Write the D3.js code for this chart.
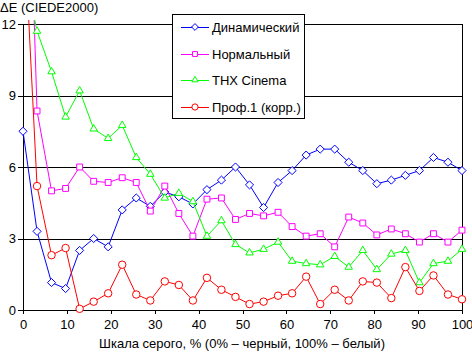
<!DOCTYPE html>
<html>
<head>
<meta charset="utf-8">
<script src="https://cdn.jsdelivr.net/npm/d3@7"></script>
<style>
  body { margin: 0; background: #fff; }
  svg { display: block; font-family: "Liberation Sans", Arial, sans-serif; }
  .crisp line, .crisp rect { shape-rendering: crispEdges; }
</style>
</head>
<body>
<div id="chart"></div>
<script>
// gray level, % (32 steps)
const grayLevels = [0, 3.2, 6.5, 9.7, 12.9, 16.1, 19.4, 22.6, 25.8, 29.0, 32.3, 35.5, 38.7, 41.9, 45.2, 48.4,
  51.6, 54.8, 58.1, 61.3, 64.5, 67.7, 71.0, 74.2, 77.4, 80.6, 83.9, 87.1, 90.3, 93.5, 96.8, 100];

const seriesNames = ["Динамический", "Нормальный", "THX Cinema", "Проф.1 (корр.)"];

const dynamicValues = [7.5, 3.3, 1.15, 0.9, 2.5, 3.0, 2.65, 4.2, 4.7, 4.35, 4.95, 4.75, 4.45, 5.05, 5.45, 6.0,
  5.25, 4.3, 5.35, 5.85, 6.5, 6.75, 6.75, 6.2, 5.85, 5.3, 5.45, 5.65, 5.85, 6.4, 6.2, 5.85];
const normalValues = [27, 8.35, 5.0, 5.1, 6.0, 5.4, 5.35, 5.55, 5.35, 4.15, 5.2, 4.05, 3.1, 4.65, 4.7, 3.8,
  4.05, 3.95, 4.1, 3.5, 3.1, 3.2, 2.65, 3.9, 3.65, 3.15, 3.4, 3.2, 2.85, 3.2, 2.85, 3.35];
const thxValues = [14.5, 11.7, 10.0, 8.1, 9.2, 7.6, 7.2, 7.75, 6.4, 5.7, 4.7, 4.9, 4.55, 3.1, 3.75, 2.75,
  2.4, 2.55, 2.85, 2.05, 1.95, 1.9, 2.25, 1.8, 2.5, 1.7, 2.35, 2.5, 1.15, 1.95, 2.05, 2.55];
const profValues = [17, 5.2, 2.3, 2.6, 0.05, 0.35, 0.7, 1.9, 0.65, 0.4, 1.2, 1.05, 0.4, 1.35, 0.85, 0.55,
  0.25, 0.35, 0.6, 0.7, 1.4, 0.25, 0.85, 0.4, 1.2, 1.15, 0.5, 1.8, 0.8, 1.45, 0.65, 0.45];

const xTicks = [0, 10, 20, 30, 40, 50, 60, 70, 80, 90, 100];
const yTicks = [0, 3, 6, 9, 12];

const colors = ["#0000ff", "#ff00ff", "#00ff00", "#ff0000"];
const symbols = [d3.symbolDiamond2, d3.symbolSquare2, d3.symbolTriangle2, d3.symbolCircle];
const symbolSizes = [42, 44, 40, 44];

const width = 472, height = 353;
const x = d3.scaleLinear().domain([0, 100]).range([23, 462]);
const y = d3.scaleLinear().domain([0, 12]).range([310, 24]);

const svg = d3.select("#chart").append("svg")
  .attr("width", width)
  .attr("height", height);

svg.append("defs").append("clipPath").attr("id", "clip")
  .append("rect").attr("x", 0).attr("y", 20).attr("width", width).attr("height", height - 20);

// gridlines + y axis
svg.append("g")
  .attr("class", "crisp")
  .attr("transform", `translate(${x(0)},0)`)
  .call(d3.axisLeft(y).tickValues(yTicks).tickSize(5).tickPadding(2))
  .call(g => g.select(".domain").remove())
  .call(g => g.selectAll(".tick line").attr("x2", x(100) - x(0)).attr("x1", -5).attr("stroke", "#000"))
  .call(g => g.selectAll(".tick text").attr("font-size", 13).attr("fill", "#000").attr("font-family", null));

// x axis
svg.append("g")
  .attr("class", "crisp")
  .attr("transform", `translate(0,${y(0)})`)
  .call(d3.axisBottom(x).tickValues(xTicks).tickSize(4).tickPadding(6).tickSizeOuter(0))
  .call(g => g.select(".domain").remove())
  .call(g => g.selectAll(".tick line").attr("stroke", "#000"))
  .call(g => g.selectAll(".tick text").attr("font-size", 13).attr("fill", "#000").attr("font-family", null));

// frame: left and right borders, bottom
const frame = svg.append("g").attr("class", "crisp");
frame.append("line").attr("x1", x(0)).attr("x2", x(0)).attr("y1", y(12)).attr("y2", y(0)).attr("stroke", "#000");
frame.append("line").attr("x1", x(100)).attr("x2", x(100)).attr("y1", y(12)).attr("y2", y(0)).attr("stroke", "#000");
frame.append("line").attr("x1", x(0)).attr("x2", x(100)).attr("y1", y(0)).attr("y2", y(0)).attr("stroke", "#000");

const allValues = [dynamicValues, normalValues, thxValues, profValues];
const line = d3.line().x((d, i) => x(grayLevels[i])).y(d => y(d));

const plot = svg.append("g").attr("clip-path", "url(#clip)");
allValues.forEach((vals, s) => {
  const g = plot.append("g");
  g.append("path")
    .attr("d", line(vals))
    .attr("fill", "none")
    .attr("stroke", colors[s])
    .attr("stroke-width", 1);
  g.selectAll("path.m")
    .data(vals)
    .join("path")
    .attr("class", "m")
    .attr("transform", (d, i) => `translate(${x(grayLevels[i])},${y(d)})`)
    .attr("d", d3.symbol(symbols[s], symbolSizes[s]))
    .attr("fill", "#fff")
    .attr("stroke", colors[s])
    .attr("stroke-width", 1);
});

// legend
const legend = svg.append("g").attr("class", "crisp");
legend.append("rect")
  .attr("x", 172.5).attr("y", 14.5).attr("width", 132).attr("height", 104)
  .attr("fill", "#fff").attr("stroke", "#000");
seriesNames.forEach((name, s) => {
  const ly = Math.round(27 + s * 26.7);
  legend.append("line")
    .attr("x1", 181).attr("x2", 209).attr("y1", ly).attr("y2", ly)
    .attr("stroke", colors[s]);
  legend.append("path")
    .attr("transform", `translate(195,${ly})`)
    .attr("d", d3.symbol(symbols[s], symbolSizes[s] * 0.7))
    .attr("fill", "#fff").attr("stroke", colors[s]);
  legend.append("text")
    .attr("x", 212).attr("y", ly)
    .attr("dy", "0.35em")
    .attr("font-size", 13)
    .text(name);
});

// titles
svg.append("text")
  .attr("x", 0).attr("y", 12)
  .attr("font-size", 13)
  .text("ΔE (CIEDE2000)");

svg.append("text")
  .attr("x", 242).attr("y", 348)
  .attr("text-anchor", "middle")
  .attr("font-size", 13)
  .text("Шкала серого, % (0% – черный, 100% – белый)");
</script>
</body>
</html>
